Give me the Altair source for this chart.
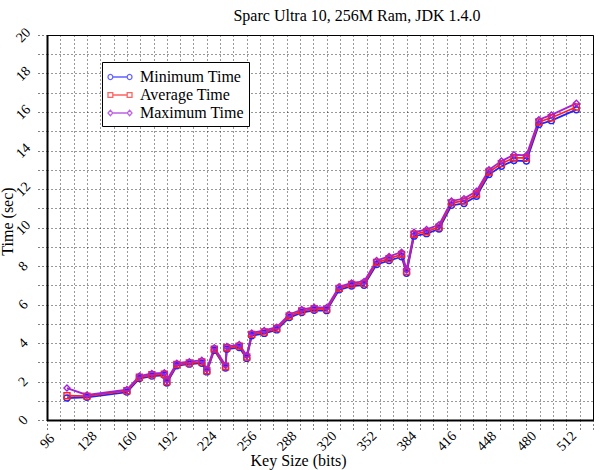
import altair as alt
import pandas as pd

key_size = [112, 128, 160, 170, 180, 190, 192, 200, 210, 220, 224, 230, 239, 240, 250, 256,
            260, 270, 280, 290, 300, 310, 320, 330, 340, 350, 360, 370, 380, 384, 390, 400,
            410, 420, 430, 440, 450, 460, 470, 480, 490, 500, 520]
min_time = [1.14, 1.18, 1.45, 2.15, 2.28, 2.32, 1.92, 2.82, 2.90, 2.95, 2.50, 3.62, 2.70, 3.68, 3.76, 3.20,
            4.38, 4.50, 4.68, 5.32, 5.58, 5.70, 5.68, 6.76, 6.96, 7.00, 8.08, 8.28, 8.48, 7.62, 9.55, 9.68,
            9.92, 11.15, 11.25, 11.62, 12.75, 13.18, 13.48, 13.45, 15.35, 15.55, 16.12]
avg_time = [1.26, 1.24, 1.52, 2.22, 2.35, 2.38, 2.00, 2.88, 2.96, 3.02, 2.56, 3.68, 2.77, 3.75, 3.84, 3.27,
            4.45, 4.58, 4.75, 5.40, 5.66, 5.78, 5.76, 6.84, 7.04, 7.10, 8.18, 8.38, 8.60, 7.72, 9.65, 9.78,
            10.02, 11.28, 11.38, 11.74, 12.88, 13.32, 13.62, 13.62, 15.48, 15.70, 16.26]
max_time = [1.66, 1.30, 1.58, 2.28, 2.42, 2.45, 2.08, 2.95, 3.03, 3.10, 2.64, 3.76, 2.85, 3.82, 3.92, 3.35,
            4.52, 4.65, 4.82, 5.48, 5.74, 5.86, 5.84, 6.92, 7.12, 7.20, 8.28, 8.50, 8.72, 7.82, 9.75, 9.90,
            10.14, 11.38, 11.50, 11.88, 13.00, 13.45, 13.78, 13.75, 15.60, 15.85, 16.45]

series_names = ["Minimum Time", "Average Time", "Maximum Time"]
series_colors = ["#2222ff", "#ff2222", "#a322d8"]
series_shapes = ["circle", "square", "diamond"]
# legend glyphs: a short line with a marker at each end (unit coords, drawn larger than the layout box)
legend_paths = [
    "M-0.8,0L0.8,0M-0.8,0A0.267,0.267 0 1,1 -1.333,0A0.267,0.267 0 1,1 -0.8,0M1.333,0A0.267,0.267 0 1,1 0.8,0A0.267,0.267 0 1,1 1.333,0",
    "M-0.8,0L0.8,0M-1.333,-0.267H-0.8V0.267H-1.333ZM0.8,-0.267H1.333V0.267H0.8Z",
    "M-0.8,0L0.8,0M-1.067,-0.3L-0.8,0L-1.067,0.3L-1.333,0ZM1.067,-0.3L1.333,0L1.067,0.3L0.8,0Z",
]

x_axis_values = [round(96 + k * 32 / 3, 4) for k in range(42)]
y_axis_values = list(range(21))

df = pd.DataFrame({"key": key_size, "Minimum Time": min_time,
                   "Average Time": avg_time, "Maximum Time": max_time})
long = df.melt(id_vars="key", var_name="series", value_name="time")

FONT = "Liberation Serif"

x_axis = alt.Axis(values=x_axis_values,
                  labelExpr="((datum.value - 96) % 32 < 0.01 || (datum.value - 96) % 32 > 31.99) ? format(datum.value, 'd') : ''",
                  title="Key Size (bits)", titleX=251, titleY=40, titleBaseline="middle",
                  titleFont=FONT, titleFontSize=16, titleFontWeight="normal", titleColor="#000",
                  labelAngle=-45, labelAlign="center", labelBaseline="middle", labelPadding=11,
                  labelFont=FONT, labelFontSize=14, labelColor="#000", labelOverlap=False,
                  labelFlush=False,
                  tickSize=10, tickColor="#000", tickDash=[1, 3], tickWidth=1,
                  grid=True, gridColor="#000", gridDash=[1, 3], gridOpacity=0.8,
                  domainColor="#000", domainWidth=2)
y_axis = alt.Axis(values=y_axis_values,
                  labelExpr="datum.value % 2 == 0 ? datum.label : ''",
                  title="Time (sec)", titleX=-40, titleY=186, titleAngle=-90,
                  titleBaseline="middle", titleAlign="center",
                  titleFont=FONT, titleFontSize=16, titleFontWeight="normal", titleColor="#000",
                  labelAngle=-45, labelAlign="center", labelBaseline="middle", labelPadding=14,
                  labelFont=FONT, labelFontSize=14, labelColor="#000", labelOverlap=False,
                  labelFlush=False,
                  tickSize=10, tickColor="#000", tickDash=[1, 3], tickWidth=1,
                  grid=True, gridColor="#000", gridDash=[1, 3], gridOpacity=0.8,
                  domainColor="#000", domainWidth=2)

x_scale = alt.Scale(domain=[96, 533.3333], nice=False, zero=False)
y_scale = alt.Scale(domain=[0, 20], nice=False)


def x_enc():
    return alt.X("key:Q", scale=x_scale, axis=x_axis)


def y_enc():
    return alt.Y("time:Q", scale=y_scale, axis=y_axis)


color_scale = alt.Scale(domain=series_names, range=series_colors)

lines = alt.Chart(long).mark_line(strokeWidth=1.8).encode(
    x=x_enc(), y=y_enc(),
    color=alt.Color("series:N", scale=color_scale, legend=None),
    order=alt.Order("key:Q"),
)
points = alt.Chart(long).mark_point(filled=False, size=36, strokeWidth=1.4, opacity=1).encode(
    x=x_enc(), y=y_enc(),
    color=alt.Color("series:N", scale=color_scale, legend=None),
    shape=alt.Shape("series:N", scale=alt.Scale(domain=series_names, range=series_shapes), legend=None),
)

legend_props = dict(orient="none", legendX=55, legendY=27, title=None, padding=5,
                    strokeColor="#000", fillColor="#fff", labelFont=FONT, labelFontSize=16,
                    labelColor="#000", rowPadding=-1, labelOffset=10, symbolOffset=3,
                    symbolSize=324, symbolStrokeWidth=1.3)
legend_layer = alt.Chart(long).transform_filter("false").mark_point(filled=False).encode(
    color=alt.Color("series:N", scale=alt.Scale(domain=series_names, range=series_colors),
                    legend=alt.Legend(**legend_props), sort=series_names),
    shape=alt.Shape("series:N", scale=alt.Scale(domain=series_names, range=legend_paths),
                    legend=alt.Legend(**legend_props), sort=series_names),
)

chart = alt.layer(lines, points, legend_layer).resolve_scale(
    color="independent", shape="independent"
).properties(
    width=546, height=385,
    padding={"left": 47, "top": 35, "right": 13, "bottom": 50},
    autosize="none",
    title=alt.TitleParams("Sparc Ultra 10, 256M Ram, JDK 1.4.0", font=FONT, fontSize=16,
                          fontWeight="normal", color="#000", anchor="middle", dx=37, offset=0,
                          dy=12, frame="group", baseline="alphabetic"),
).configure_view(stroke="#000", strokeWidth=1)

chart.save("out.html", embed_options={"renderer": "svg", "actions": False})
